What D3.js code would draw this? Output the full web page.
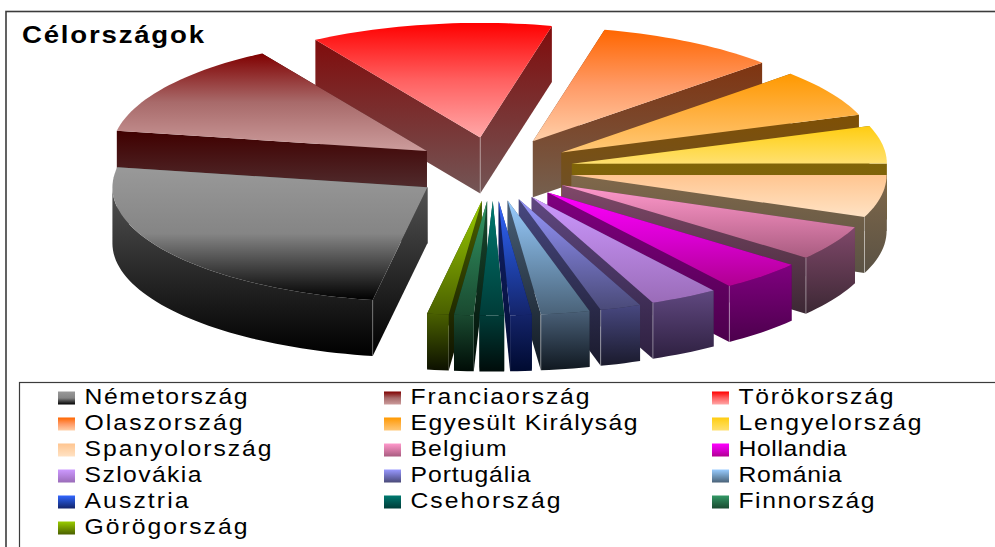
<!DOCTYPE html>
<html><head><meta charset="utf-8">
<script src="https://cdn.jsdelivr.net/npm/d3@7"></script>
<style>html,body{margin:0;padding:0;background:#fff}svg{display:block}
text{font-family:"Liberation Sans",Arial,sans-serif;fill:#000}</style></head>
<body><svg id="c" width="995" height="547"></svg>
<script>
const title = "Célországok";
const countries = ["Németország","Franciaország","Törökország","Olaszország","Egyesült Királyság","Lengyelország","Spanyolország","Belgium","Hollandia","Szlovákia","Portugália","Románia","Ausztria","Csehország","Finnország","Görögország"];
const shares = [25,13.4,12.4,9.3,6.7,5.3,6,4.9,4.3,3.5,2.1,2.5,1.1,1.25,1,1.1];
const labelWidths = [163,179,155,158,227,183,187,96,108,117,120,103,104,150,136,163];
const topFrom = ["#999999","#800000","#ff0000","#ff6600","#ff9900","#ffcc11","#ffc590","#ff99cc","#ff00ff","#cc99ff","#9999ff","#99ccff","#3366ff","#007a70","#339966","#99cc00"];
const topMid  = ["#858585","#a86a6a","#ff6060","#ff9a66","#ffb040","#ffd840","#ffd4aa","#d67aa6","#d800d0","#b482dc","#7070bc","#7098bc","#2046b4","#005a54","#26704a","#739600"];
const topTo   = ["#000000","#cc9c9c","#ffa8a8","#ffcfa8","#ffc878","#ffe070","#ffe2c4","#a85c80","#b00090","#9a6cb8","#4a4a78","#4a6278","#14246a","#003c38","#1a4a30","#4a6000"];
const wallFrom= ["#525252","#400000","#800c0c","#7f3410","#7f5004","#806408","#80684a","#80486a","#800080","#604880","#484880","#4a6078","#14246a","#003c38","#1a4a30","#4a6000"];
const wallTo  = ["#000000","#553a3c","#735656","#75604f","#6b5030","#7a6010","#5a5244","#3c2834","#4c004c","#2e2040","#1a1a2c","#101820","#000a30","#000c0a","#000c06","#0c1000"];
const paintOrder = ["Törökország","Olaszország","Franciaország","Egyesült Királyság","Lengyelország","Spanyolország","Belgium","Hollandia","Szlovákia","Portugália","Románia","Ausztria","Németország","Görögország","Finnország","Csehország"];

const W = 995, H = 547;
const svg = d3.select("#c");
const defs = svg.append("defs");
const center = {x:493, y:169}, explode = {x:80, y:32}, radius = {x:315, y:114.5}, depth = 56;
const unitX = d3.scaleLinear().domain([-1,1]).range([-radius.x, radius.x]);
const unitY = d3.scaleLinear().domain([-1,1]).range([-radius.y, radius.y]);

function grad(id, stops){
  const g = defs.append("linearGradient").attr("id",id).attr("x1",0).attr("y1",0).attr("x2",0).attr("y2",1);
  stops.forEach((c,k)=>g.append("stop").attr("offset",k/(stops.length-1)).attr("stop-color",c));
}
countries.forEach((c,i)=>{ grad("t"+i,[topFrom[i],topMid[i],topTo[i]]); grad("w"+i,[wallFrom[i],wallTo[i]]); });

const startDeg = 190;
const pie = d3.pie().sort(null).startAngle(startDeg*Math.PI/180).endAngle((startDeg+360)*Math.PI/180);
const arcs = pie(shares);
const toScreen = a => a - Math.PI/2;

svg.append("rect").attr("x",6).attr("y",11.5).attr("width",W+10).attr("height",H)
  .attr("fill","#fff").attr("stroke","#3c3c3c").attr("stroke-width",1.6);

const line = d3.line();
const gPie = svg.append("g");
paintOrder.forEach(name=>{
  const i = countries.indexOf(name), d = arcs[i];
  const a0 = toScreen(d.startAngle), a1 = toScreen(d.endAngle), mid=(a0+a1)/2;
  const apex = [center.x+explode.x*Math.cos(mid), center.y+explode.y*Math.sin(mid)];
  const pt = a => [apex[0]+unitX(Math.cos(a)), apex[1]+unitY(Math.sin(a))];
  const n = Math.max(3, Math.ceil((a1-a0)/0.03));
  const rim = d3.range(n+1).map(k=>pt(a0+(a1-a0)*k/n));
  const down = p => [p[0],p[1]+depth];
  const g = gPie.append("g").attr("data-name",name);
  const poly = (pts,fill)=>g.append("path").attr("d",line(pts)+"Z").attr("fill",fill);
  [rim[0],rim[n]].sort((p,q)=>p[1]-q[1]).forEach(p=>poly([apex,p,down(p),down(apex)],`url(#w${i})`));
  const front = rim.filter((p,k)=>Math.sin(a0+(a1-a0)*k/n)>=-0.02);
  if(front.length>1) poly(front.concat(front.slice().reverse().map(down)),`url(#w${i})`);
  const edge = (p,op)=>g.append("line").attr("x1",p[0]).attr("y1",p[1]).attr("x2",p[0]).attr("y2",p[1]+depth)
     .attr("stroke","#fff").attr("stroke-opacity",op).attr("stroke-width",0.8);
  if(Math.sin(mid)<-0.9) edge(apex,0.45);
  else if(Math.sin(mid)>0 && Math.cos(mid)>0.1) edge(rim[n],0.5);
  else if(name==="Németország") edge(rim[0],0.35);
  poly([apex].concat(rim),`url(#t${i})`);
});

const glyphStretch = 1.15;
svg.append("text").attr("transform",`translate(22,43) scale(${glyphStretch},1)`)
  .attr("font-size",24).attr("font-weight","bold")
  .attr("textLength",182/glyphStretch).attr("lengthAdjust","spacing").text(title);

svg.append("rect").attr("x",19.5).attr("y",382.5).attr("width",W+10).attr("height",H)
  .attr("fill","#fff").attr("stroke","#3c3c3c").attr("stroke-width",1.2);

const colX = d3.scaleLinear().domain([0,1,2]).range([58,384,712]);
const rowY = d3.scaleLinear().domain([0,5]).range([404,534]);
const gLeg = svg.append("g");
countries.forEach((c,i)=>{
  const cx = colX(i%3), ry = rowY(Math.floor(i/3));
  gLeg.append("rect").attr("x",cx).attr("y",ry-12.5).attr("width",17).attr("height",13).attr("fill",`url(#t${i})`);
  gLeg.append("text").attr("transform",`translate(${cx+26.5},${ry}) scale(${glyphStretch},1)`)
    .attr("font-size",21.5).attr("textLength",labelWidths[i]/glyphStretch).attr("lengthAdjust","spacing").text(c);
});
</script></body></html>
